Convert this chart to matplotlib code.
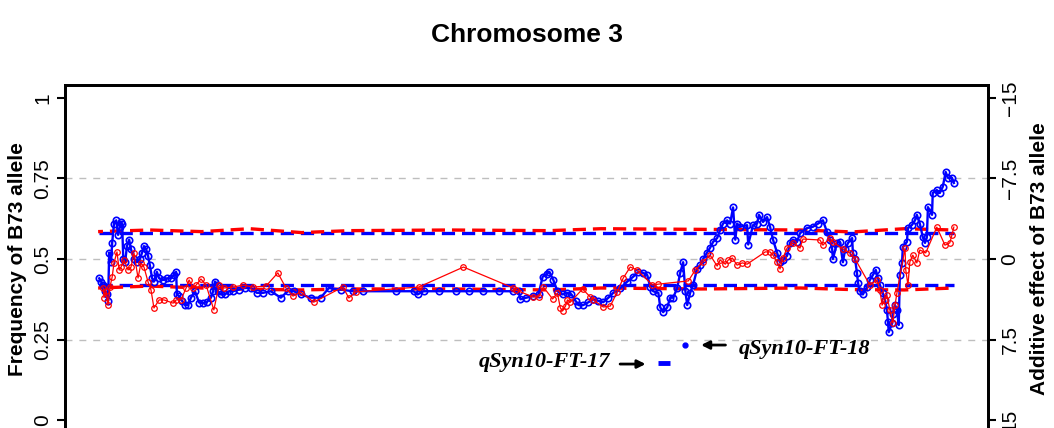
import matplotlib
matplotlib.use("Agg")
import matplotlib.pyplot as plt

plt.rcParams['font.family'] = ['Liberation Sans', 'DejaVu Sans']
plt.rcParams['lines.scale_dashes'] = False

# позиции маркеров (Mb) и частота аллеля B73, синяя серия
blue_pos = [0.3, 0.8, 1.4, 1.9, 2.4, 2.7, 3.0, 3.5, 3.8, 4.3, 4.9, 5.4, 5.9, 6.2, 6.5, 6.8,
            7.3, 7.8, 8.4, 8.9, 9.7, 10.5, 11.3, 11.9, 12.4, 13.0, 13.5, 14.0, 14.6, 15.1,
            15.9, 16.5, 17.6, 18.6, 19.7, 20.5, 21.1, 21.3, 21.9, 22.7, 23.5, 24.3, 25.1,
            26.2, 27.3, 28.4, 29.4, 30.5, 31.1, 31.6, 32.1, 32.4, 33.2, 34.3, 35.4, 36.5,
            38.1, 39.7, 41.3, 42.9, 44.6, 46.7, 49.4, 51.3, 52.9, 54.8, 57.5, 60.2, 62.4,
            65.6, 68.9, 71.6, 80.5, 85.3, 86.4, 88.0, 92.1, 96.7, 100.2, 104.0, 108.3,
            112.1, 113.7, 114.2, 115.8, 117.7, 119.1, 120.2, 121.5, 122.0, 123.1, 124.2,
            125.6, 126.9, 128.0, 129.1, 129.9, 131.2, 132.6, 133.9, 135.3, 136.6, 138.0,
            139.3, 141.2, 143.1, 144.7, 146.1, 147.4, 148.5, 149.3, 150.1, 151.5, 152.0,
            152.8, 153.9, 154.7, 155.5, 156.6, 157.4, 158.2, 158.8, 159.3, 160.1, 160.9,
            162.0, 162.8, 163.6, 164.7, 165.5, 166.3, 167.4, 168.2, 169.0, 170.1, 170.9,
            171.7, 172.3, 172.8, 173.6, 175.5, 175.8, 177.1, 178.2, 178.7, 179.8, 180.9,
            181.7, 182.5, 183.6, 184.4, 185.2, 186.3, 187.1, 187.9, 189.0, 189.8, 191.7,
            193.3, 194.7, 196.0, 197.1, 197.9, 198.5, 198.7, 199.8, 200.6, 201.4, 202.0,
            202.8, 203.9, 204.1, 204.7, 205.2, 205.5, 206.0, 206.8, 207.9, 208.7, 209.5,
            210.3, 210.9, 211.4, 212.2, 212.8, 213.3, 213.6, 213.8, 214.7, 214.9, 215.5,
            216.0, 216.5, 216.8, 217.4, 217.6, 218.7, 219.0, 220.1, 220.9, 221.4, 222.2,
            223.0, 223.6, 224.1, 224.4, 225.5, 225.7, 226.8, 227.6, 228.4, 229.2, 229.8,
            230.9, 231.4]
blue_freq = [0.44, 0.43, 0.42, 0.40, 0.39, 0.37, 0.52, 0.49, 0.55, 0.61, 0.62, 0.575, 0.60,
             0.615, 0.61, 0.50, 0.49, 0.54, 0.56, 0.53, 0.50, 0.49, 0.50, 0.52, 0.54, 0.53,
             0.51, 0.48, 0.44, 0.43, 0.46, 0.44, 0.435, 0.44, 0.44, 0.45, 0.46, 0.39, 0.385,
             0.37, 0.357, 0.357, 0.38, 0.40, 0.365, 0.363, 0.366, 0.38, 0.40, 0.43, 0.42,
             0.40, 0.39, 0.39, 0.40, 0.40, 0.405, 0.41, 0.41, 0.395, 0.395, 0.40, 0.38, 0.40,
             0.40, 0.39, 0.38, 0.38, 0.41, 0.405, 0.40, 0.40, 0.40, 0.40, 0.39, 0.40, 0.40,
             0.40, 0.40, 0.40, 0.40, 0.40, 0.40, 0.375, 0.38, 0.385, 0.39, 0.445, 0.455,
             0.46, 0.435, 0.40, 0.39, 0.395, 0.39, 0.37, 0.357, 0.357, 0.366, 0.375, 0.37,
             0.366, 0.38, 0.395, 0.41, 0.43, 0.445, 0.46, 0.457, 0.45, 0.413, 0.40, 0.395,
             0.35, 0.335, 0.35, 0.38, 0.38, 0.41, 0.457, 0.49, 0.40, 0.357, 0.395, 0.42,
             0.47, 0.48, 0.50, 0.52, 0.535, 0.553, 0.565, 0.59, 0.61, 0.62, 0.61, 0.66,
             0.56, 0.61, 0.60, 0.605, 0.545, 0.605, 0.61, 0.637, 0.615, 0.63, 0.60, 0.56,
             0.52, 0.49, 0.497, 0.51, 0.55, 0.56, 0.553, 0.58, 0.596, 0.60, 0.61, 0.62,
             0.584, 0.56, 0.53, 0.50, 0.55, 0.553, 0.49, 0.53, 0.55, 0.565, 0.52, 0.50,
             0.457, 0.425, 0.40, 0.39, 0.413, 0.435, 0.45, 0.466, 0.44, 0.42, 0.394, 0.373,
             0.342, 0.304, 0.273, 0.30, 0.33, 0.357, 0.342, 0.295, 0.45, 0.488, 0.537,
             0.553, 0.596, 0.606, 0.62, 0.637, 0.61, 0.568, 0.55, 0.568, 0.661, 0.637,
             0.705, 0.714, 0.705, 0.724, 0.77, 0.752, 0.752, 0.736]

# красная серия
red_pos = [1.4, 1.6, 2.2, 2.7, 3.2, 3.8, 4.3, 5.1, 5.7, 6.2, 7.0, 8.1, 8.9, 9.7, 10.8, 11.6,
           12.4, 13.5, 14.3, 15.1, 16.5, 17.8, 20.3, 21.1, 22.4, 23.8, 24.6, 25.7, 26.5,
           27.8, 29.2, 31.3, 32.7, 34.0, 36.5, 39.2, 41.9, 45.4, 48.6, 50.8, 52.7, 54.8,
           58.3, 66.2, 67.8, 69.7, 86.7, 98.8, 112.3, 112.9, 117.7, 119.1, 120.4, 122.9,
           124.2, 125.0, 125.6, 126.4, 126.9, 127.7, 131.0, 133.1, 133.9, 136.6, 138.5,
           140.4, 142.0, 143.9, 145.8, 149.9, 151.5, 159.6, 161.5, 163.6, 165.5, 167.4,
           168.2, 169.6, 170.4, 171.5, 172.8, 174.2, 175.5, 180.4, 181.7, 182.5, 183.6,
           184.4, 185.2, 186.3, 187.9, 189.8, 190.6, 195.2, 196.0, 197.9, 198.7, 201.4,
           203.3, 204.7, 208.7, 210.6, 211.4, 212.0, 212.8, 213.3, 214.1, 214.9, 215.5,
           216.0, 218.2, 218.4, 219.0, 219.5, 220.3, 221.4, 222.2, 223.8, 226.8, 229.0,
           230.3, 230.9, 231.4]
red_freq = [0.41, 0.38, 0.40, 0.357, 0.413, 0.444, 0.488, 0.522, 0.466, 0.475, 0.497, 0.466,
            0.475, 0.519, 0.441, 0.488, 0.475, 0.429, 0.404, 0.348, 0.373, 0.373, 0.363,
            0.373, 0.373, 0.41, 0.435, 0.41, 0.419, 0.438, 0.419, 0.342, 0.419, 0.41, 0.413,
            0.419, 0.413, 0.416, 0.457, 0.41, 0.385, 0.398, 0.366, 0.413, 0.379, 0.398,
            0.413, 0.475, 0.41, 0.404, 0.382, 0.382, 0.413, 0.376, 0.394, 0.348, 0.339,
            0.354, 0.373, 0.366, 0.407, 0.382, 0.373, 0.351, 0.354, 0.398, 0.441, 0.475,
            0.466, 0.419, 0.422, 0.432, 0.466, 0.491, 0.512, 0.478, 0.497, 0.484, 0.497,
            0.503, 0.481, 0.488, 0.484, 0.522, 0.522, 0.512, 0.491, 0.469, 0.503, 0.534,
            0.55, 0.534, 0.562, 0.559, 0.543, 0.565, 0.553, 0.531, 0.519, 0.50, 0.419,
            0.435, 0.404, 0.357, 0.373, 0.388, 0.342, 0.301, 0.357, 0.394, 0.534, 0.466,
            0.419, 0.491, 0.512, 0.488, 0.528, 0.519, 0.599, 0.543, 0.55, 0.575, 0.599]

# пороги значимости
blue_thr = [0.42, 0.58]
red_thr_pos = [0, 14, 28, 41, 55, 68, 95, 122, 136, 163, 190, 204, 218, 231.4]
red_thr_hi = [0.585, 0.59, 0.585, 0.594, 0.582, 0.588, 0.59, 0.588, 0.594, 0.592, 0.59,
              0.584, 0.594, 0.59]
red_thr_lo = [0.41, 0.416, 0.41, 0.406, 0.404, 0.407, 0.407, 0.404, 0.41, 0.407, 0.41,
              0.405, 0.404, 0.41]

# QTL
qtl17_pos = [151.5, 154.7]
qtl17_y = 0.177
qtl18_pos = 158.8
qtl18_y = 0.233

fig = plt.figure(figsize=(10.54, 4.28), dpi=100)
ax = fig.add_axes([0.0617, -0.0117, 0.8757, 0.8131])

xmin, xmax = min(blue_pos), max(blue_pos)
pad = 0.04 * (xmax - xmin)
ax.set_xlim(xmin - pad, xmax + pad)
ax.set_ylim(-0.04, 1.04)

for g in [0.25, 0.5, 0.75]:
    ax.axhline(g, color='#bebebe', lw=1, dashes=(5, 5), zorder=1)

for t in blue_thr:
    ax.plot([xmin, xmax], [t, t], color='blue', lw=2.4, dashes=(9.5, 5), zorder=2)
ax.plot(red_thr_pos, red_thr_hi, color='red', lw=2.4, ls=(6, (9.5, 5)), zorder=2)
ax.plot(red_thr_pos, red_thr_lo, color='red', lw=2.4, ls=(6, (9.5, 5)), zorder=2)

ax.plot(blue_pos, blue_freq, color='blue', lw=1.7, marker='o', ms=4.6,
        mfc='none', mew=1.2, zorder=3)
ax.plot(red_pos, red_freq, color='red', lw=0.9, marker='o', ms=4.0,
        mfc='none', mew=0.9, zorder=4)

ax.plot(qtl17_pos, [qtl17_y, qtl17_y], color='blue', lw=3.5, solid_capstyle='butt')
ax.plot([qtl18_pos], [qtl18_y], 'o', color='blue', ms=3.5)

serif = dict(family='Liberation Serif', weight='bold', style='italic', fontsize=16)
ax.text(138.5, 0.18, 'qSyn10-FT-17', ha='right', va='center', **serif)
ax.text(173.1, 0.22, 'qSyn10-FT-18', ha='left', va='center', **serif)
ax.annotate('', xy=(148.8, 0.174), xytext=(140.4, 0.174),
            arrowprops=dict(arrowstyle='-|>', color='black', lw=2, mutation_scale=12))
ax.annotate('', xy=(162.3, 0.233), xytext=(170.4, 0.233),
            arrowprops=dict(arrowstyle='-|>', color='black', lw=2, mutation_scale=12))

ax.set_xticks([])
ax.set_yticks([0, 0.25, 0.5, 0.75, 1])
ax.set_yticklabels(['0', '0.25', '0.5', '0.75', '1'], rotation=90, va='center', fontsize=15)
ax.tick_params(axis='y', length=6, width=1.5, pad=3)
ax.set_ylabel('Frequency of B73 allele', fontsize=15, fontweight='bold')
ax.yaxis.set_label_coords(-0.041, 0.5)
for s in ax.spines.values():
    s.set_linewidth(2)

ax2 = ax.twinx()
ax2.set_ylim(16.2, -16.2)
ax2.set_yticks([-15, -7.5, 0, 7.5, 15])
ax2.set_yticklabels(['\u221215', '\u22127.5', '0', '7.5', '15'], rotation=90,
                    va='center', fontsize=15)
ax2.tick_params(axis='y', length=6, width=1.5, pad=3)
ax2.set_ylabel('Additive effect of B73 allele', fontsize=15, fontweight='bold')
ax2.yaxis.set_label_coords(1.046, 0.5)
for s in ax2.spines.values():
    s.set_linewidth(2)

fig.text(0.5, 1 - 35 / 428, 'Chromosome 3', ha='center', va='center',
         fontsize=19, fontweight='bold')

fig.savefig('out.png', dpi=100)
